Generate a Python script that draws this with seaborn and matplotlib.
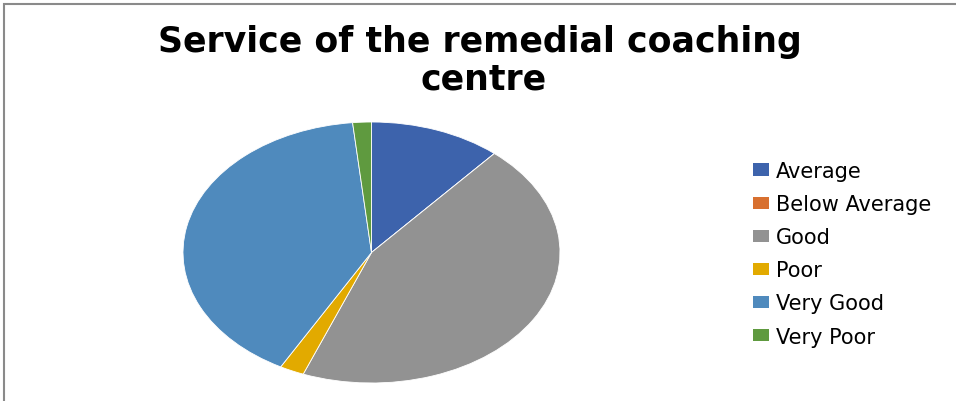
import matplotlib
matplotlib.use("Agg")
import matplotlib.pyplot as plt
import matplotlib.patches as mpatches
import seaborn as sns

# values (percent of respondents)
categories = ["Average", "Below Average", "Good", "Poor", "Very Good", "Very Poor"]
shares = [11.3, 0.0, 44.6, 2.1, 40.4, 1.6]
colours = ["#3d63ac", "#d8702f", "#929292", "#e2aa00", "#4f8abd", "#5f9a3f"]

sns.set_theme(style="white")
plt.rcParams["font.family"] = ["DejaVu Sans"]

fig = plt.figure(figsize=(9.56, 4.02), dpi=100)
W, H = 956, 402

# pie is stretched horizontally like the original
ax = fig.add_axes([183 / W, (H - 384) / H, 377 / W, 261 / H])
wedges, _ = ax.pie(shares, colors=colours, startangle=90, counterclock=False,
                   wedgeprops=dict(linewidth=0.6, edgecolor="white"))
ax.set_aspect("auto")
ax.set_xlim(-1, 1)
ax.set_ylim(-1, 1)
ax.axis("off")

fig.text(480 / W, 1 - 52 / H, "Service of the remedial coaching",
         ha="center", va="baseline", fontsize=25, fontweight="bold", color="black")
fig.text(484 / W, 1 - 90 / H, "centre",
         ha="center", va="baseline", fontsize=25, fontweight="bold", color="black")

handles = [mpatches.Patch(facecolor=c, edgecolor="none") for c in colours]
fig.legend(handles, categories, loc="upper left",
           bbox_to_anchor=(753 / W, 1 - 162 / H), frameon=False, borderpad=0,
           borderaxespad=0, fontsize=15, labelcolor="black",
           handlelength=0.77, handleheight=0.53,
           handletextpad=0.34, labelspacing=0.63)

# grey chart-area border (cropped at right and bottom)
fig.patches.append(mpatches.Rectangle((3.5 / W, -0.05), 1.2, 1 - 5 / H + 0.05,
                                      transform=fig.transFigure, fill=False,
                                      edgecolor="#8a8a8a", linewidth=1.5))

fig.savefig("out.png", dpi=100)
